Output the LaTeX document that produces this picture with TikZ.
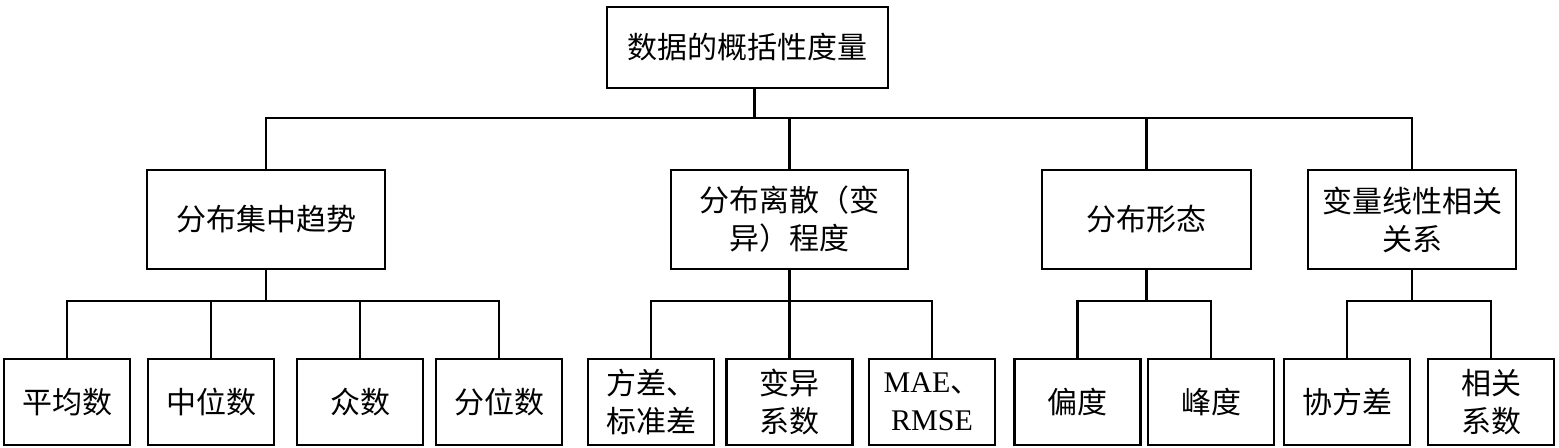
\documentclass[tikz,border=0pt]{standalone}
\usepackage{fontspec}
\setmainfont{Liberation Serif}
\newfontfamily\cjk{Noto Sans CJK SC}
\usepackage{tikz}

\tikzset{box/.style={draw, line width=1.2pt, align=center, inner sep=0pt, font=\cjk\fontsize{15}{19}\selectfont},
  leaf/.style={box, minimum width=63pt, minimum height=43pt}}

\begin{document}
\begin{tikzpicture}[x=0.5pt,y=-0.5pt,line width=1.2pt]
\useasboundingbox (0,0) rectangle (1559,447);

\node [box, minimum width=140.5pt, minimum height=40.5pt] (root) at (747.5,47.5) {数据的概括性度量};

\foreach \n/\x/\w/\t in {b1/266/119/分布集中趋势, b2/789.5/118.5/{分布离散（变\\异）程度},
    b3/1146.5/104.5/分布形态, b4/1412/104/{变量线性相关\\关系}}
  \node [box, minimum width=\w pt, minimum height=49.5pt] (\n) at (\x,219.5) {\t};

\foreach \n/\x/\t in {l1/67/平均数, l2/211/中位数, l3/360/众数, l4/499/分位数,
    l5/651/{方差、\\标准差}, l6/789.5/{变异\\系数}, l7/932/{{\rmfamily MAE}、\\{\rmfamily RMSE}},
    l8/1077.5/偏度, l9/1211/峰度, l10/1347/协方差, l11/1491/{相关\\系数}}
  \node [leaf] (\n) at (\x,402) {\t};

\foreach \c in {b1,b2,b3,b4}
  \draw ([xshift=3.5pt]root.south) -- ++(0,29) -| (\c.north);

\foreach \p/\c in {b1/l1,b1/l2,b1/l3,b1/l4,b2/l5,b2/l6,b2/l7,b3/l8,b3/l9,b4/l10,b4/l11}
  \draw (\p.south) -- ++(0,31) -| (\c.north);
\end{tikzpicture}
\end{document}
